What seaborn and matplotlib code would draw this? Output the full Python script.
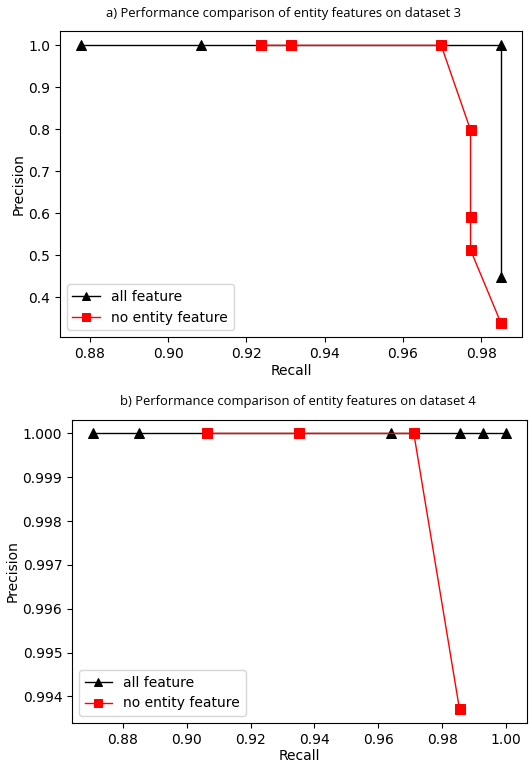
import seaborn as sns
import matplotlib.pyplot as plt
import pandas as pd
import numpy as np

# dataset 3
recall_all_3 = [0.8777, 0.9083, 0.9851, 0.9851]
precision_all_3 = [1.0, 1.0, 1.0, 0.449]
recall_noent_3 = [0.9238, 0.9315, 0.9698, 0.9773, 0.9773, 0.9773, 0.9851]
precision_noent_3 = [1.0, 1.0, 1.0, 0.7984, 0.5905, 0.5127, 0.338]

# dataset 4
recall_all_4 = [0.8706, 0.8850, 0.9640, 0.9854, 0.9927, 1.0]
precision_all_4 = [1.0, 1.0, 1.0, 1.0, 1.0, 1.0]
recall_noent_4 = [0.9064, 0.9353, 0.9711, 0.9854]
precision_noent_4 = [1.0, 1.0, 1.0, 0.99371]

series_labels = ["all feature", "no entity feature"]
titles = ["a) Performance comparison of entity features on dataset 3",
          "b) Performance comparison of entity features on dataset 4"]

plt.rcParams['font.size'] = 10

fig = plt.figure(figsize=(5.3, 7.68), dpi=100)
ax1 = fig.add_axes([0.113, 0.561, 0.872, 0.398])
ax2 = fig.add_axes([0.136, 0.0586, 0.858, 0.395])


def draw(ax, rx_a, py_a, rx_n, py_n):
    sns.lineplot(x=rx_a, y=py_a, ax=ax, color='black', marker='^',
                 markersize=7.5, markeredgecolor='black', linewidth=1,
                 estimator=None, sort=False, label=series_labels[0])
    sns.lineplot(x=rx_n, y=py_n, ax=ax, color='red', marker='s',
                 markersize=7, markeredgecolor='red', linewidth=1,
                 estimator=None, sort=False, label=series_labels[1])
    ax.set_xlabel("Recall", fontsize=10, labelpad=2)
    ax.set_ylabel("Precision", fontsize=10, labelpad=2)
    ax.tick_params(labelsize=10)
    ax.legend(loc='lower left', fontsize=10, framealpha=0.8, edgecolor='#cccccc',
              handlelength=2.0, markerscale=0.85)


draw(ax1, recall_all_3, precision_all_3, recall_noent_3, precision_noent_3)
draw(ax2, recall_all_4, precision_all_4, recall_noent_4, precision_noent_4)

ax1.set_yticks(np.arange(0.4, 1.01, 0.1))
ax1.set_xticks(np.arange(0.88, 0.981, 0.02))
ax2.set_xticks(np.arange(0.88, 1.001, 0.02))
ax2.set_yticks(np.arange(0.994, 1.0001, 0.001))
ax2.yaxis.set_major_formatter(plt.FormatStrFormatter('%.3f'))
ax1.xaxis.set_major_formatter(plt.FormatStrFormatter('%.2f'))
ax2.xaxis.set_major_formatter(plt.FormatStrFormatter('%.2f'))
ax1.yaxis.set_major_formatter(plt.FormatStrFormatter('%.1f'))

fig.text(283 / 530, 1 - 14 / 768, titles[0], ha='center', va='center',
         fontsize=9.4, family='Open Sans')
fig.text(298 / 530, 1 - 402 / 768, titles[1], ha='center', va='center',
         fontsize=9.4, family='Open Sans')

fig.savefig('out.png', dpi=100)
